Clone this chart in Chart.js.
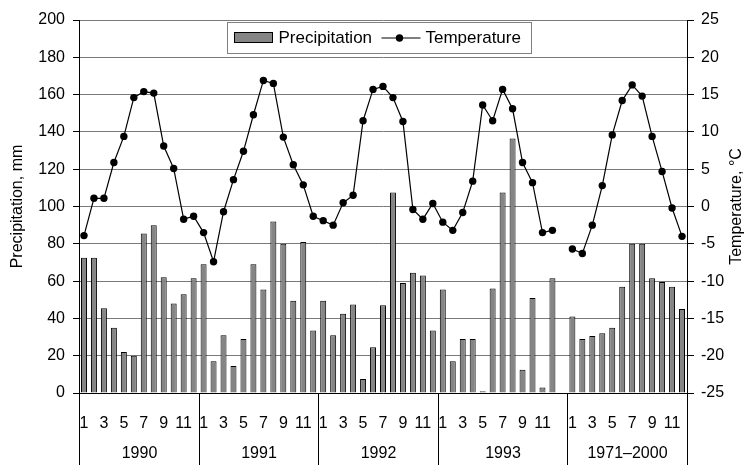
<!DOCTYPE html>
<html>
<head>
<meta charset="utf-8">
<script src="https://cdn.jsdelivr.net/npm/chart.js@4/dist/chart.umd.min.js"></script>
<style>
  html, body { margin: 0; padding: 0; background: #fff; }
  #grafico { display: block; }
</style>
</head>
<body>
<canvas id="grafico" width="752" height="465"></canvas>
<script>
const grupos = ['1990', '1991', '1992', '1993', '1971–2000']
const meses = ['1','2','3','4','5','6','7','8','9','10','11','12']
// 1993 group has an extra blank slot at its end
const tamanos = [12, 12, 12, 13, 12]

const precip1990 = [72.5, 72.5, 45.5, 35, 22, 20, 85.5, 90, 62, 48, 53, 61.5]
const precip1991 = [69, 17, 31, 14.5, 29, 69, 55.5, 92, 80, 49.5, 81, 33.5]
const precip1992 = [49.5, 31, 42.5, 47.5, 7.5, 24.5, 47, 107.5, 59, 64.5, 63, 33.5]
const precip1993 = [55.5, 17, 29, 29, 1, 56, 107.5, 136.5, 12.5, 51, 3, 61.5]
const precipNorma = [41, 29, 30.5, 32, 35, 57, 80, 80, 61.5, 59.5, 57, 45]

const temp1990 = [-3.9, 1.1, 1.1, 5.9, 9.4, 14.6, 15.4, 15.2, 8.1, 5.1, -1.7, -1.3]
const temp1991 = [-3.5, -7.4, -0.7, 3.6, 7.4, 12.3, 16.9, 16.5, 9.3, 5.6, 2.9, -1.3]
const temp1992 = [-1.9, -2.5, 0.5, 1.5, 11.5, 15.7, 16.1, 14.6, 11.4, -0.4, -1.7, 0.4]
const temp1993 = [-2.1, -3.2, -0.8, 3.4, 13.6, 11.5, 15.7, 13.1, 5.9, 3.2, -3.5, -3.2]
const tempNorma = [-5.7, -6.3, -2.5, 2.8, 9.6, 14.2, 16.3, 14.8, 9.4, 4.7, -0.2, -4.0]

const ticksPrecip = [0, 20, 40, 60, 80, 100, 120, 140, 160, 180, 200]
const ticksTemp = [-25, -20, -15, -10, -5, 0, 5, 10, 15, 20, 25]

const etiquetas = []
const precipitacion = []
const temperatura = []
const seriesP = [precip1990, precip1991, precip1992, precip1993, precipNorma]
const seriesT = [temp1990, temp1991, temp1992, temp1993, tempNorma]
grupos.forEach((g, k) => {
    for (let i = 0; i < tamanos[k]; i++) {
        etiquetas.push(i < 12 ? meses[i] : '')
        precipitacion.push(i < 12 ? seriesP[k][i] : null)
        temperatura.push(i < 12 ? seriesT[k][i] : null)
    }
})

const fuente = "'Liberation Sans', Arial, sans-serif"
Chart.defaults.font.family = fuente
Chart.defaults.font.size = 16
Chart.defaults.color = '#000'

const divisiones = {
    id: 'divisiones',
    afterDraw(chart) {
        const ctx = chart.ctx
        const x = chart.scales.x
        const paso = x.getPixelForValue(1) - x.getPixelForValue(0)
        ctx.save()
        ctx.strokeStyle = '#000'
        ctx.lineWidth = 1
        ctx.fillStyle = '#000'
        ctx.font = '16px ' + fuente
        ctx.textAlign = 'center'
        ctx.textBaseline = 'middle'
        let idx = 0
        let inicio = Math.round(x.getPixelForValue(0) - paso / 2) + 0.5
        ctx.beginPath()
        ctx.moveTo(inicio, x.top)
        ctx.lineTo(inicio, chart.height)
        ctx.stroke()
        grupos.forEach((g, k) => {
            idx += tamanos[k]
            const fin = Math.round(x.getPixelForValue(idx - 1) + paso / 2) + 0.5
            ctx.beginPath()
            ctx.moveTo(fin, x.top)
            ctx.lineTo(fin, chart.height)
            ctx.stroke()
            ctx.fillText(g, (inicio + fin) / 2, x.top + 61)
            inicio = fin
        })
        ctx.restore()
    }
}

const extras = {
    id: 'extras',
    afterDraw(chart) {
        const ctx = chart.ctx
        const ca = chart.chartArea
        ctx.save()
        // right axis title, reading upward
        ctx.translate(737, (ca.top + ca.bottom) / 2)
        ctx.rotate(-Math.PI / 2)
        ctx.fillStyle = '#000'
        ctx.font = '16px ' + fuente
        ctx.textAlign = 'center'
        ctx.textBaseline = 'middle'
        ctx.fillText('Temperature, °C', 0, 0)
        ctx.restore()

        // legend box
        const w = 304, h = 31
        const x0 = Math.round((ca.left + ca.right) / 2 - w / 2 - 4) + 0.5
        const y0 = Math.round(ca.top + 2) + 0.5
        const yc = y0 + h / 2
        ctx.save()
        ctx.fillStyle = '#fff'
        ctx.fillRect(x0, y0, w, h)
        ctx.strokeStyle = '#808080'
        ctx.lineWidth = 1
        ctx.strokeRect(x0, y0, w, h)
        ctx.fillStyle = '#858585'
        ctx.strokeStyle = '#000'
        ctx.fillRect(x0 + 7, y0 + 10, 38, 10)
        ctx.strokeRect(x0 + 7, y0 + 10, 38, 10)
        ctx.fillStyle = '#000'
        ctx.font = '17px ' + fuente
        ctx.textBaseline = 'middle'
        ctx.textAlign = 'left'
        ctx.fillText('Precipitation', x0 + 51, yc)
        ctx.beginPath()
        ctx.moveTo(x0 + 154, yc)
        ctx.lineTo(x0 + 193, yc)
        ctx.stroke()
        ctx.beginPath()
        ctx.arc(x0 + 172, yc, 3.7, 0, Math.PI * 2)
        ctx.fill()
        ctx.fillText('Temperature', x0 + 198, yc)
        ctx.restore()
    }
}

new Chart(document.getElementById('grafico').getContext('2d'), {
    data: {
        labels: etiquetas,
        datasets: [
            {
                type: 'line',
                label: 'Temperature',
                data: temperatura,
                yAxisID: 'y1',
                borderColor: '#000',
                borderWidth: 1.2,
                pointRadius: 3.7,
                pointBackgroundColor: '#000',
                pointBorderColor: '#000',
                pointBorderWidth: 0,
                spanGaps: false,
                tension: 0,
                order: 0
            },
            {
                type: 'bar',
                label: 'Precipitation',
                data: precipitacion,
                yAxisID: 'y',
                backgroundColor: '#858585',
                borderColor: '#000',
                borderWidth: 1,
                barPercentage: 0.6,
                categoryPercentage: 1,
                order: 1
            }
        ]
    },
    plugins: [divisiones, extras],
    options: {
        responsive: false,
        animation: false,
        layout: { padding: { top: 20, left: 0, right: 0, bottom: 0 } },
        plugins: {
            legend: { display: false },
            tooltip: { enabled: false }
        },
        scales: {
            x: {
                type: 'category',
                offset: true,
                grid: { display: false },
                border: { display: true, color: '#000' },
                ticks: {
                    autoSkip: false,
                    maxRotation: 0,
                    minRotation: 0,
                    padding: 13,
                    callback: function (v) {
                        const l = this.getLabelForValue(v)
                        return l !== '' && parseInt(l) % 2 === 1 ? l : ''
                    }
                },
                afterFit: s => { s.height = 72 }
            },
            y: {
                position: 'left',
                min: 0,
                max: 200,
                afterBuildTicks: s => { s.ticks = ticksPrecip.map(v => ({ value: v })) },
                ticks: { padding: 8 },
                grid: { color: '#7a7a7a', tickColor: '#000', tickLength: 6 },
                border: { color: '#000' },
                title: { display: true, text: 'Precipitation, mm', padding: { top: 8 } },
                afterFit: s => { s.width = 79 }
            },
            y1: {
                position: 'right',
                min: -25,
                max: 25,
                afterBuildTicks: s => { s.ticks = ticksTemp.map(v => ({ value: v })) },
                ticks: { padding: 7 },
                grid: { drawOnChartArea: false, tickColor: '#000', tickLength: 7 },
                border: { color: '#000' },
                afterFit: s => { s.width = 65 }
            }
        }
    }
})
</script>
</body>
</html>
